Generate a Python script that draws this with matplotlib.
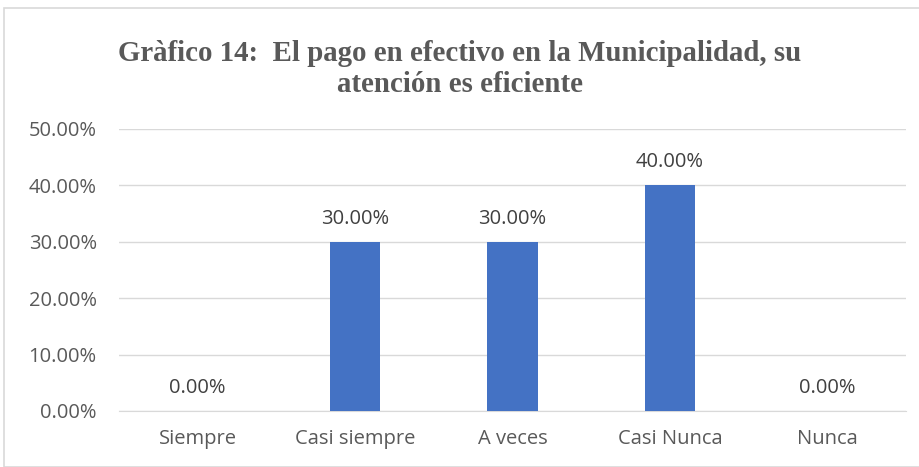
import matplotlib.pyplot as plt
from matplotlib.patches import Rectangle
from matplotlib.ticker import FuncFormatter

categories = ["Siempre", "Casi siempre", "A veces", "Casi Nunca", "Nunca"]
values = [0.0, 30.0, 30.0, 40.0, 0.0]
yticks = [0, 10, 20, 30, 40, 50]
title = "Gràfico 14:  El pago en efectivo en la Municipalidad, su\natención es eficiente"

text_color = "#595959"
bar_color = "#4472C4"

fig = plt.figure(figsize=(9.2, 4.67), dpi=100)
ax = fig.add_axes([0.1293, 0.120, 0.8557, 0.6038])

# outer chart frame
fig.patches.append(Rectangle((4 / 920, 0.0), 1.0, 1 - 8 / 467, transform=fig.transFigure,
                             fill=False, edgecolor="#D9D9D9", linewidth=1.2))

x = range(len(categories))
ax.bar(x, values, width=0.32, color=bar_color, zorder=3)

for xi, v in zip(x, values):
    ax.text(xi, v + 2.3, f"{v:.2f}%", ha="center", va="bottom",
            fontsize=14.5, color="#404040", family="Open Sans")

ax.set_xlim(-0.5, len(categories) - 0.5)
ax.set_ylim(0, 50)
ax.set_yticks(yticks)
ax.yaxis.set_major_formatter(FuncFormatter(lambda v, p: f"{v:.2f}%"))
ax.set_xticks(list(x))
ax.set_xticklabels(categories)
ax.grid(axis="y", color="#D9D9D9", linewidth=1, zorder=0)
ax.tick_params(length=0, labelsize=14.5, labelcolor=text_color)
ax.tick_params(axis="x", pad=13)
ax.tick_params(axis="y", pad=16)
for lab in ax.get_xticklabels() + ax.get_yticklabels():
    lab.set_family("Open Sans")
for s in ["top", "right", "left"]:
    ax.spines[s].set_visible(False)
ax.spines["bottom"].set_color("#D9D9D9")

fig.text(0.5, 0.853, title, ha="center", va="center", fontsize=20.8, fontweight="bold",
         family="Liberation Serif", color=text_color, linespacing=1.2)

fig.savefig("out.png", dpi=100)
